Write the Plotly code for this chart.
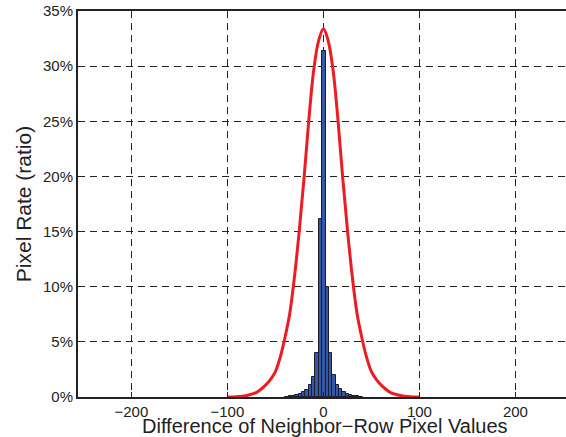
import plotly.graph_objects as go

# Histogram bins (difference values) and pixel rates (%)
bin_centers = [-38.0, -34.5, -31.0, -27.5, -24.0, -20.5, -17.0, -13.5, -10.0, -6.5, -3.0,
               0.5, 4.0, 7.5, 11.0, 14.5, 18.0, 21.5, 25.0, 28.5, 32.0, 35.5, 39.0]
bin_rates = [0.03, 0.05, 0.1, 0.2, 0.3, 0.45, 0.67, 1.06, 1.8, 4.0, 16.1,
             31.4, 10.0, 4.0, 2.0, 1.1, 0.7, 0.45, 0.3, 0.2, 0.1, 0.05, 0.03]

# Fitted curve points
curve_x = [-100, -95, -90, -85, -80, -75, -70, -65, -60, -55, -50, -45, -40, -35, -30,
           -25, -20, -15, -10, -5, 0, 5, 10, 15, 20, 25, 30, 35, 40, 45, 50, 55, 60,
           65, 70, 75, 80, 85, 90, 95, 100]
curve_y = [0.0, 0.01, 0.03, 0.06, 0.13, 0.25, 0.4, 0.7, 1.1, 1.6, 2.3, 3.6, 5.4, 7.6, 11.0,
           15.2, 20.0, 25.3, 29.7, 32.3, 33.4, 32.3, 29.7, 25.3, 20.0, 15.2, 11.0, 7.6, 5.4,
           3.6, 2.3, 1.6, 1.1, 0.7, 0.4, 0.25, 0.13, 0.06, 0.03, 0.01, 0.0]

x_tick_vals = [-200, -100, 0, 100, 200]
x_tick_text = ["\u2212200", "\u2212100", "0", "100", "200"]
y_tick_vals = [0, 5, 10, 15, 20, 25, 30, 35]
y_tick_text = ["0%", "5%", "10%", "15%", "20%", "25%", "30%", "35%"]
x_title = "Difference of Neighbor\u2212Row Pixel Values"
y_title = "Pixel Rate (ratio)"

font_family = "Liberation Sans, Arial, sans-serif"

fig = go.Figure()
fig.add_trace(go.Bar(
    x=bin_centers, y=bin_rates, width=3.5,
    marker=dict(color="#3457a6", line=dict(color="#1c1c2a", width=1)),
    showlegend=False,
))
fig.add_trace(go.Scatter(
    x=curve_x, y=curve_y, mode="lines",
    line=dict(color="#ec1c24", width=3, shape="spline", smoothing=1.0),
    showlegend=False,
))

fig.update_layout(
    width=566, height=437,
    margin=dict(l=78, r=0, t=11, b=40),
    paper_bgcolor="white", plot_bgcolor="white",
    font=dict(family=font_family, color="#222222", size=15),
    bargap=0,
)
fig.add_annotation(
    text=x_title, xref="paper", yref="paper", x=0.5, y=0,
    xanchor="center", yanchor="top", xshift=3, yshift=-16,
    showarrow=False, font=dict(size=20, family=font_family, color="#222222"),
)
fig.update_xaxes(
    range=[-255.6, 252.7],
    tickmode="array", tickvals=x_tick_vals, ticktext=x_tick_text,
    showgrid=True, gridcolor="#222222", gridwidth=1, griddash="7px,5px",
    zeroline=False,
    showline=True, linecolor="#222222", linewidth=2, mirror="ticks",
    ticks="inside", ticklen=5, tickcolor="#222222", tickwidth=1,
    tickfont=dict(size=15), ticklabeloverflow="allow",
    automargin=False,
)
fig.update_yaxes(
    range=[0, 35],
    tickmode="array", tickvals=y_tick_vals, ticktext=y_tick_text,
    showgrid=True, gridcolor="#222222", gridwidth=1, griddash="7px,5px",
    zeroline=False,
    showline=True, linecolor="#222222", linewidth=2, mirror=False,
    ticks="inside", ticklen=5, tickcolor="#222222", tickwidth=1,
    tickfont=dict(size=15), ticklabeloverflow="allow",
    title=dict(text=y_title, font=dict(size=21), standoff=6),
    automargin=False,
)

fig.write_html(
    "out.html",
    config={"displayModeBar": False},
    post_script="document.body.style.margin='0';document.body.style.overflow='hidden';",
)
